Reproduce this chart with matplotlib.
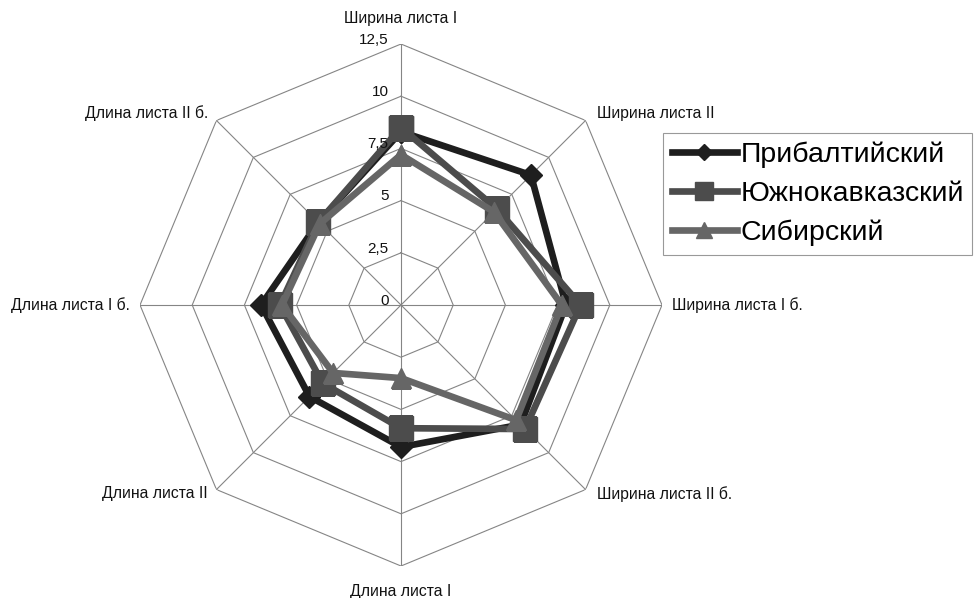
import numpy as np
import matplotlib
matplotlib.use("Agg")
import matplotlib.pyplot as plt

plt.rcParams['font.family'] = ['Liberation Sans', 'DejaVu Sans']

categories = ['Ширина листа I', 'Ширина листа II', 'Ширина листа I б.', 'Ширина листа II б.',
              'Длина листа I', 'Длина листа II', 'Длина листа I б.', 'Длина листа II б.']
pribalt = [8.3, 8.8, 7.9, 8.1, 6.8, 6.2, 6.7, 5.6]
yuzhnokavk = [8.5, 6.5, 8.6, 8.4, 5.9, 5.3, 5.8, 5.6]
sibir = [7.2, 6.3, 7.7, 7.8, 3.5, 4.6, 5.7, 5.5]
series_names = ['Прибалтийский', 'Южнокавказский', 'Сибирский']
ticks = [0, 2.5, 5, 7.5, 10, 12.5]
tick_labels = ['0', '2,5', '5', '7,5', '10', '12,5']

n = len(categories)
angles = np.arange(n) * 2 * np.pi / n
closed = np.append(angles, angles[0])

fig = plt.figure(figsize=(9.77, 5.98), dpi=100)
ax = fig.add_axes([0.1433, 0.0535, 0.5343, 0.8729], projection='polar')
ax.set_theta_zero_location('N')
ax.set_theta_direction(-1)
ax.set_ylim(0, 12.5)
ax.grid(False)
ax.spines['polar'].set_visible(False)
ax.set_xticks([])
ax.set_yticks([])
ax.patch.set_visible(False)

# octagon grid + spokes
for t in ticks[1:]:
    ax.plot(closed, [t] * (n + 1), color='#858585', lw=0.8, zorder=1)
for a in angles:
    ax.plot([a, a], [0, 12.5], color='#858585', lw=0.8, zorder=1)

# radial labels along the top spoke
for t, lab in zip(ticks, tick_labels):
    ax.annotate(lab, xy=(0, t), xytext=(-9, 3), textcoords='offset points',
                ha='right', va='center', fontsize=11, color='#111111', zorder=5)

# category labels
offsets = [(0, 13), (8, 5), (7, 0), (8, -3), (0, -13), (-6, -3), (-7, 0), (-6, 5)]
has = ['center', 'left', 'left', 'left', 'center', 'right', 'right', 'right']
vas = ['bottom', 'center', 'center', 'center', 'top', 'center', 'center', 'center']
for a, lab, off, h, v in zip(angles, categories, offsets, has, vas):
    ax.annotate(lab, xy=(a, 12.5), xytext=off, textcoords='offset points',
                ha=h, va=v, fontsize=11.3, color='#111111')

styles = [
    dict(color='#1e1e1e', marker='D', markersize=11),
    dict(color='#4c4c4c', marker='s', markersize=17),
    dict(color='#666666', marker='^', markersize=15),
]
for vals, name, st in zip([pribalt, yuzhnokavk, sibir], series_names, styles):
    v = np.append(vals, vals[0])
    ax.plot(closed, v, lw=4.8, label=name, zorder=3, solid_joinstyle='miter', **st)

leg = fig.legend(loc='upper left', bbox_to_anchor=(663 / 977, 1 - 133 / 598),
                 fontsize=20.5, frameon=True, fancybox=False, borderaxespad=0,
                 handlelength=2.3, handletextpad=0.12, labelspacing=0.45,
                 borderpad=0.3, markerscale=0.75)
leg.get_frame().set_edgecolor('#808080')
leg.get_frame().set_linewidth(0.8)

fig.savefig('out.png', dpi=100)
